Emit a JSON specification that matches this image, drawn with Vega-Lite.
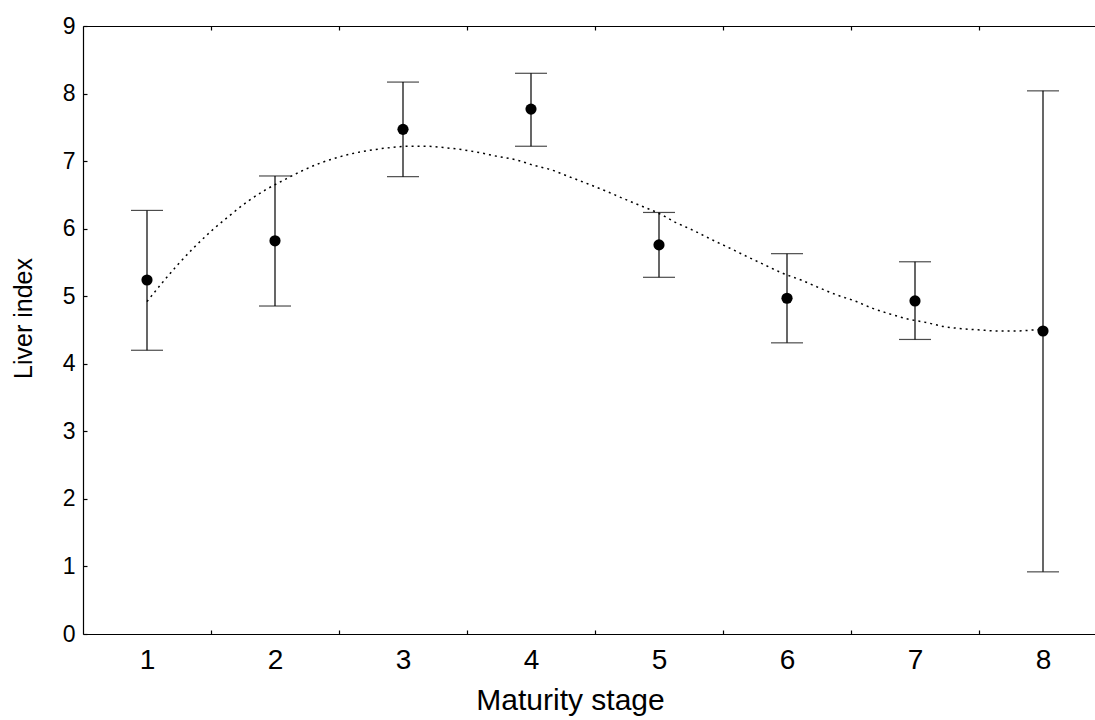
{
  "$schema": "https://vega.github.io/schema/vega-lite/v6.json",
  "autosize": "none",
  "width": 1012,
  "height": 608,
  "padding": {"left": 83, "top": 26, "right": 0, "bottom": 86},
  "background": "white",
  "config": {
    "view": {"stroke": null},
    "font": "Liberation Sans",
    "axis": {
      "domainColor": "black",
      "domainWidth": 1.2,
      "tickColor": "black",
      "tickWidth": 1.2,
      "labelColor": "black",
      "titleColor": "black",
      "labelFont": "Liberation Sans",
      "titleFont": "Liberation Sans",
      "titleFontWeight": "normal",
      "grid": false
    }
  },
  "datasets": {
    "stats": [
      {"stage": 1, "mean": 5.24, "lower": 4.20, "upper": 6.27},
      {"stage": 2, "mean": 5.82, "lower": 4.855, "upper": 6.78},
      {"stage": 3, "mean": 7.47, "lower": 6.77, "upper": 8.17},
      {"stage": 4, "mean": 7.77, "lower": 7.22, "upper": 8.30},
      {"stage": 5, "mean": 5.76, "lower": 5.28, "upper": 6.24},
      {"stage": 6, "mean": 4.97, "lower": 4.31, "upper": 5.63},
      {"stage": 7, "mean": 4.93, "lower": 4.36, "upper": 5.51},
      {"stage": 8, "mean": 4.485, "lower": 0.92, "upper": 8.04}
    ],
    "fit": [
      {"stage": 1.0, "value": 4.92},
      {"stage": 1.115, "value": 5.19},
      {"stage": 1.237, "value": 5.46},
      {"stage": 1.367, "value": 5.72},
      {"stage": 1.505, "value": 5.97},
      {"stage": 1.643, "value": 6.19},
      {"stage": 1.784, "value": 6.40},
      {"stage": 1.922, "value": 6.57},
      {"stage": 2.07, "value": 6.72},
      {"stage": 2.205, "value": 6.85},
      {"stage": 2.352, "value": 6.97},
      {"stage": 2.482, "value": 7.05},
      {"stage": 2.625, "value": 7.12},
      {"stage": 2.76, "value": 7.165},
      {"stage": 2.90, "value": 7.20},
      {"stage": 3.04, "value": 7.22},
      {"stage": 3.185, "value": 7.22},
      {"stage": 3.32, "value": 7.20},
      {"stage": 3.459, "value": 7.17},
      {"stage": 3.60, "value": 7.125},
      {"stage": 3.737, "value": 7.07},
      {"stage": 3.88, "value": 7.02},
      {"stage": 4.018, "value": 6.94},
      {"stage": 4.16, "value": 6.87},
      {"stage": 4.297, "value": 6.77},
      {"stage": 4.435, "value": 6.67},
      {"stage": 4.575, "value": 6.565},
      {"stage": 4.716, "value": 6.45},
      {"stage": 4.857, "value": 6.34},
      {"stage": 4.995, "value": 6.23},
      {"stage": 5.133, "value": 6.09},
      {"stage": 5.273, "value": 5.97},
      {"stage": 5.41, "value": 5.84},
      {"stage": 5.555, "value": 5.71},
      {"stage": 5.69, "value": 5.585},
      {"stage": 5.83, "value": 5.46},
      {"stage": 5.966, "value": 5.34},
      {"stage": 6.11, "value": 5.24},
      {"stage": 6.245, "value": 5.13},
      {"stage": 6.388, "value": 5.02},
      {"stage": 6.53, "value": 4.93},
      {"stage": 6.67, "value": 4.82},
      {"stage": 6.80, "value": 4.74},
      {"stage": 6.95, "value": 4.66},
      {"stage": 7.09, "value": 4.61},
      {"stage": 7.227, "value": 4.55},
      {"stage": 7.365, "value": 4.52},
      {"stage": 7.51, "value": 4.50},
      {"stage": 7.65, "value": 4.485},
      {"stage": 7.79, "value": 4.485},
      {"stage": 7.92, "value": 4.50},
      {"stage": 8.0, "value": 4.51}
    ]
  },
  "resolve": {"axis": {"x": "independent", "y": "independent"}},
  "layer": [
    {
      "data": {"name": "stats"},
      "mark": {"type": "rule", "color": "black", "strokeWidth": 1.2},
      "encoding": {
        "x": {
          "field": "stage", "type": "quantitative",
          "scale": {"domain": [0.5, 8.40625], "nice": false, "zero": false},
          "axis": {
            "orient": "bottom", "values": [1, 2, 3, 4, 5, 6, 7, 8],
            "ticks": false, "domain": true, "labelFontSize": 28,
            "labelPadding": 12, "title": "Maturity stage", "titleFontSize": 30,
            "titlePadding": 11, "titleX": 487, "labelFlush": false
          }
        },
        "y": {
          "field": "lower", "type": "quantitative",
          "scale": {"domain": [0, 9], "nice": false, "zero": true},
          "axis": {
            "orient": "left", "values": [0, 1, 2, 3, 4, 5, 6, 7, 8, 9],
            "tickSize": -4, "labelFontSize": 23, "labelPadding": 12,
            "title": "Liver index", "titleFontSize": 25, "titlePadding": 26,
            "titleY": 292, "labelFlush": false
          }
        },
        "y2": {"field": "upper"}
      }
    },
    {
      "data": {"name": "stats"},
      "mark": {"type": "tick", "orient": "horizontal", "color": "black", "size": 32, "thickness": 1.2},
      "encoding": {
        "x": {
          "field": "stage", "type": "quantitative",
          "scale": {"domain": [0.5, 8.40625], "nice": false, "zero": false},
          "axis": {
            "orient": "bottom", "values": [1.5, 2.5, 3.5, 4.5, 5.5, 6.5, 7.5],
            "tickSize": -4, "labels": false, "domain": false, "title": null
          }
        },
        "y": {"field": "upper", "type": "quantitative", "axis": null}
      }
    },
    {
      "data": {"name": "stats"},
      "mark": {"type": "tick", "orient": "horizontal", "color": "black", "size": 32, "thickness": 1.2},
      "encoding": {
        "x": {
          "field": "stage", "type": "quantitative",
          "scale": {"domain": [0.5, 8.40625], "nice": false, "zero": false},
          "axis": {
            "orient": "top", "values": [1.5, 2.5, 3.5, 4.5, 5.5, 6.5, 7.5],
            "tickSize": -4, "labels": false, "domain": true, "title": null
          }
        },
        "y": {"field": "lower", "type": "quantitative", "axis": null}
      }
    },
    {
      "data": {"name": "fit"},
      "mark": {"type": "line", "color": "black", "strokeWidth": 1.5, "strokeDash": [2, 4], "interpolate": "monotone"},
      "encoding": {
        "x": {"field": "stage", "type": "quantitative", "axis": null},
        "y": {"field": "value", "type": "quantitative", "axis": null}
      }
    },
    {
      "data": {"name": "stats"},
      "mark": {"type": "point", "filled": true, "color": "black", "opacity": 1, "size": 125},
      "encoding": {
        "x": {"field": "stage", "type": "quantitative", "axis": null},
        "y": {"field": "mean", "type": "quantitative", "axis": null}
      }
    }
  ]
}
